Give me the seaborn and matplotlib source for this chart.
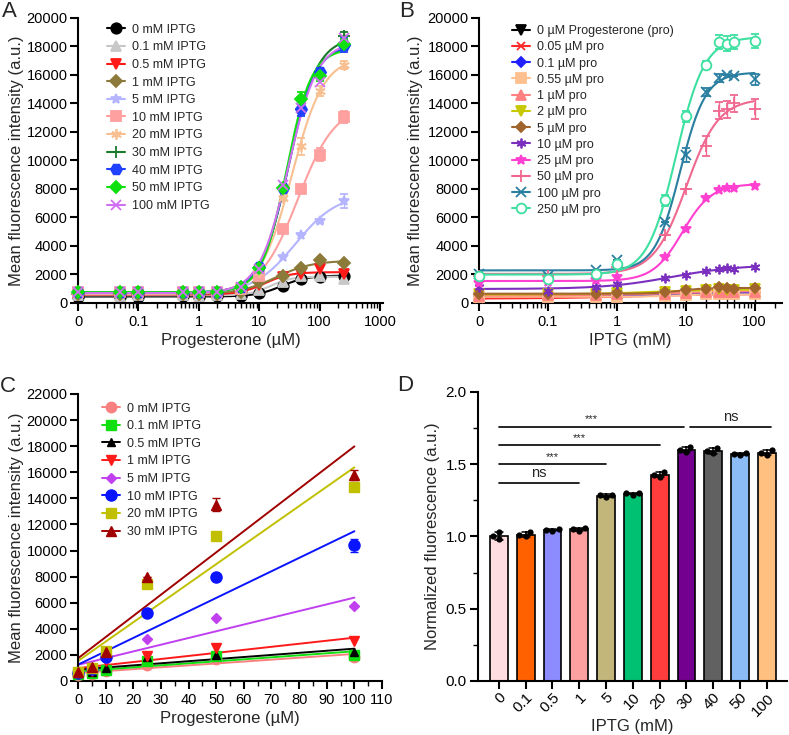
import numpy as np
import pandas as pd
import matplotlib
matplotlib.use("Agg")
import matplotlib.pyplot as plt
import seaborn as sns
from matplotlib.lines import Line2D
from matplotlib.ticker import LogLocator, NullFormatter, MultipleLocator

# ---------------- Panel A: progesterone response at fixed IPTG ----------------
pro_conc = [0, 0.05, 0.1, 0.55, 1, 2, 5, 10, 25, 50, 100, 250]
a_labels = ["0 mM IPTG", "0.1 mM IPTG", "0.5 mM IPTG", "1 mM IPTG", "5 mM IPTG",
            "10 mM IPTG", "20 mM IPTG", "30 mM IPTG", "40 mM IPTG", "50 mM IPTG",
            "100 mM IPTG"]
a_0mM = [450, 420, 450, 500, 430, 480, 500, 700, 1200, 1700, 1850, 1900]
a_01mM = [550, 500, 550, 550, 500, 550, 600, 900, 1500, 1900, 1900, 1700]
a_05mM = [600, 600, 600, 600, 600, 600, 750, 1250, 1850, 2000, 2350, 2050]
a_1mM = [650, 650, 650, 650, 650, 650, 800, 1500, 1900, 2450, 3000, 2800]
a_5mM = [700, 700, 700, 700, 700, 700, 900, 1800, 3200, 4750, 5750, 7150]
a_10mM = [750, 750, 750, 750, 750, 750, 950, 1900, 5200, 8000, 10400, 13050]
a_20mM = [750, 750, 750, 750, 750, 750, 1000, 2200, 7400, 11000, 14900, 16700]
a_30mM = [800, 800, 800, 800, 800, 800, 1050, 2500, 8100, 13600, 16200, 18700]
a_40mM = [800, 800, 800, 800, 800, 800, 1100, 2500, 8100, 13600, 16200, 18100]
a_50mM = [800, 800, 800, 800, 800, 800, 1100, 2450, 8100, 14300, 15900, 18200]
a_100mM = [800, 800, 800, 800, 800, 800, 1100, 2400, 8300, 13700, 15500, 18600]
a_err_01mM = [0, 0, 0, 0, 0, 0, 0, 0, 0, 0, 0, 250]
a_err_5mM = [0, 0, 0, 0, 0, 0, 0, 0, 0, 0, 150, 500]
a_err_10mM = [0, 0, 0, 0, 0, 0, 0, 0, 0, 0, 450, 400]
a_err_20mM = [0, 0, 0, 0, 0, 0, 0, 0, 0, 600, 350, 300]
a_err_30mM = [0, 0, 0, 0, 0, 0, 0, 0, 0, 300, 300, 300]
a_err_40mM = [0, 0, 0, 0, 0, 0, 0, 0, 0, 500, 300, 500]
a_err_50mM = [0, 0, 0, 0, 0, 0, 0, 0, 0, 500, 300, 300]

# ---------------- Panel B: IPTG response at fixed progesterone ----------------
iptg_conc = [0, 0.1, 0.5, 1, 5, 10, 20, 30, 40, 50, 100]
b_labels = ["0 µM Progesterone (pro)", "0.05 µM pro", "0.1 µM pro", "0.55 µM pro",
            "1 µM pro", "2 µM pro", "5 µM pro", "10 µM pro", "25 µM pro",
            "50 µM pro", "100 µM pro", "250 µM pro"]
b_0 = [450, 450, 450, 500, 550, 600, 650, 700, 700, 700, 700]
b_005 = [300, 350, 400, 450, 500, 550, 600, 600, 600, 600, 600]
b_01 = [500, 500, 500, 550, 550, 600, 650, 700, 700, 700, 700]
b_055 = [400, 450, 450, 450, 500, 550, 600, 600, 600, 600, 600]
b_1 = [500, 550, 550, 600, 650, 700, 750, 800, 800, 800, 800]
b_2 = [600, 600, 650, 700, 800, 850, 900, 950, 900, 900, 950]
b_5 = [600, 650, 650, 700, 750, 900, 1000, 1100, 1050, 1000, 1050]
b_10 = [1100, 850, 1150, 1300, 1750, 1950, 2250, 2350, 2450, 2400, 2550]
b_25 = [1400, 1450, 1600, 1800, 3200, 5200, 7350, 7950, 8100, 8100, 8200]
b_50 = [1900, 1900, 2000, 2500, 4800, 8000, 11000, 13500, 13600, 14000, 13600]
b_100 = [2000, 1900, 2300, 3000, 5700, 10400, 14800, 15800, 16000, 15950, 15700]
b_250 = [1900, 1700, 2000, 2700, 7200, 13100, 16700, 18300, 18200, 18300, 18400]
b_err_0_low = [450, 450, 450, 500, 550, 600, 650, 700, 700, 700, 700]
b_err_0_up = [0, 0, 0, 0, 0, 0, 0, 0, 0, 0, 0]
b_err_50 = [0, 0, 0, 0, 0, 0, 700, 600, 600, 600, 700]
b_err_100 = [0, 0, 0, 0, 0, 500, 300, 300, 0, 0, 400]
b_err_250 = [0, 0, 0, 0, 400, 400, 300, 500, 500, 500, 500]

# ---------------- Panel C: linear range ----------------
c_pro = [0, 5, 10, 25, 50, 100]
c_labels = ["0 mM IPTG", "0.1 mM IPTG", "0.5 mM IPTG", "1 mM IPTG", "5 mM IPTG",
            "10 mM IPTG", "20 mM IPTG", "30 mM IPTG"]
c_0mM = [450, 500, 750, 1200, 1700, 1850]
c_01mM = [500, 600, 850, 1500, 1900, 2000]
c_05mM = [600, 700, 1000, 1800, 2000, 2200]
c_1mM = [600, 800, 1500, 1900, 2500, 3050]
c_5mM = [700, 1000, 1750, 3200, 4800, 5750]
c_10mM = [600, 900, 1850, 5200, 8000, 10400]
c_20mM = [700, 1000, 2300, 7400, 11100, 14900]
c_30mM = [700, 1100, 2200, 8000, 13500, 15800]
c_err_10mM = [0, 0, 0, 0, 0, 500]
c_err_30mM = [0, 0, 0, 0, 500, 400]

# ---------------- Panel D: normalized fluorescence ----------------
d_iptg = ["0", "0.1", "0.5", "1", "5", "10", "20", "30", "40", "50", "100"]
d_rep1 = [1.03, 1.03, 1.04, 1.06, 1.29, 1.30, 1.445, 1.62, 1.61, 1.58, 1.595]
d_rep2 = [0.98, 1.00, 1.045, 1.04, 1.27, 1.29, 1.41, 1.585, 1.575, 1.565, 1.565]
d_rep3 = [1.00, 1.01, 1.05, 1.055, 1.285, 1.30, 1.425, 1.60, 1.59, 1.57, 1.58]
d_colors = ["#ffdde0", "#ff6000", "#8c8cff", "#ffa0a0", "#c2b67a", "#00c072",
            "#ff3d3d", "#73008f", "#616161", "#8cbcf6", "#ffc080"]
sig_start = [0, 0, 0, 0, 7.15]
sig_end = [3, 4, 6, 6.9, 10.15]
sig_y = [1.37, 1.50, 1.63, 1.76, 1.76]
sig_text = ["ns", "***", "***", "***", "ns"]


def hill_fit(x, y):
    # grid search over EC50 / Hill slope, bottom and span by least squares
    x = np.asarray(x, float)
    y = np.asarray(y, float)
    L, N = np.meshgrid(np.arange(-1.5, 3.0, 0.01), np.arange(0.5, 4.0, 0.05), indexing="ij")
    L, N = L.ravel(), N.ravel()
    ec = 10 ** L
    f = x[None, :] ** N[:, None] / (x[None, :] ** N[:, None] + ec[:, None] ** N[:, None])
    fm, ym = f.mean(1), y.mean()
    fc, yc = f - fm[:, None], y - ym
    slope = (fc * yc).sum(1) / ((fc ** 2).sum(1) + 1e-12)
    inter = ym - slope * fm
    sse = ((y[None, :] - inter[:, None] - slope[:, None] * f) ** 2).sum(1)
    k = np.argmin(sse)
    return inter[k], slope[k], ec[k], N[k]


def dose_panel(ax, x, series, xmax):
    xp = np.where(np.asarray(x, float) == 0, 0.01, x)
    xs = np.logspace(-2, np.log10(xmax), 300)
    handles = []
    for y, err, color, marker, ms, mfc in series:
        b, s, ec, n = hill_fit(x, y)
        ax.plot(xs, b + s * xs ** n / (xs ** n + ec ** n), color=color, lw=1.5, zorder=2,
                clip_on=False)
        ax.errorbar(xp, y, yerr=err, marker=marker, linestyle="none", color=color, ms=ms,
                    mfc=mfc, mec=color, mew=1.3, capsize=3, elinewidth=1, zorder=3,
                    clip_on=False)
        handles.append(Line2D([], [], color=color, marker=marker, ms=ms, mfc=mfc,
                              mec=color, mew=1.3, lw=1.5))
    ax.set_xscale("log")
    ax.xaxis.set_minor_locator(LogLocator(base=10, subs=np.arange(2, 10), numticks=20))
    ax.xaxis.set_minor_formatter(NullFormatter())
    ax.set_ylim(0, 20000)
    ax.set_yticks(np.arange(0, 20001, 2000))
    return handles


sns.set_style("ticks")
plt.rcParams["font.family"] = ["Liberation Sans", "DejaVu Sans"]
plt.rcParams.update({
    "axes.linewidth": 1.5, "xtick.major.width": 1.5, "ytick.major.width": 1.5,
    "xtick.minor.width": 1.0, "ytick.minor.width": 1.0,
    "xtick.major.size": 6, "ytick.major.size": 6,
    "xtick.minor.size": 3.5, "ytick.minor.size": 3.5,
    "xtick.major.pad": 2.5, "ytick.major.pad": 1.5,
    "xtick.labelsize": 10.5, "ytick.labelsize": 10.5,
    "axes.labelsize": 12, "axes.edgecolor": "black",
    "xtick.color": "black", "ytick.color": "black",
})

fig = plt.figure(figsize=(7.89, 7.35), dpi=100)
axA = fig.add_axes([0.0989, 0.5878, 0.3866, 0.3878])
axB = fig.add_axes([0.6071, 0.5878, 0.3840, 0.3878])
axC = fig.add_axes([0.0989, 0.0735, 0.3853, 0.3905])
axD = fig.add_axes([0.6058, 0.0735, 0.3916, 0.3932])
for ax in (axA, axB, axC, axD):
    sns.despine(ax=ax)

asterisk = (6, 2, 0)

# ---- A ----
seriesA = [
    (a_0mM, None, "black", "o", 7.5, "black"),
    (a_01mM, a_err_01mM, "#c8c8c8", "^", 6.5, "#c8c8c8"),
    (a_05mM, None, "#ff1a1a", "v", 6.5, "#ff1a1a"),
    (a_1mM, None, "#8c7a3a", "D", 6, "#8c7a3a"),
    (a_5mM, a_err_5mM, "#b4b4ff", "*", 7.5, "#b4b4ff"),
    (a_10mM, a_err_10mM, "#ffa0a0", "s", 7.5, "#ffa0a0"),
    (a_20mM, a_err_20mM, "#f8c090", asterisk, 7.5, "#f8c090"),
    (a_30mM, a_err_30mM, "#1a7a2a", "+", 8.5, "#1a7a2a"),
    (a_40mM, a_err_40mM, "#2040ff", "H", 8, "#2040ff"),
    (a_50mM, a_err_50mM, "#10e010", "D", 6.5, "#10e010"),
    (a_100mM, None, "#d070f0", "x", 7.5, "#d070f0"),
]
hA = dose_panel(axA, pro_conc, seriesA, 250)
axA.set_xlim(0.01, 1120)
axA.set_xticks([0.01, 0.1, 1, 10, 100, 1000])
axA.set_xticklabels(["0", "0.1", "1", "10", "100", "1000"])
axA.set_xlabel("Progesterone (µM)", labelpad=3)
axA.set_ylabel("Mean fluorescence intensity (a.u.)", labelpad=2)
axA.legend(hA, a_labels, loc="upper left", bbox_to_anchor=(0.095, 0.98), frameon=False,
           fontsize=9, handlelength=1.4, handletextpad=0.6, labelspacing=0.45,
           borderpad=0, borderaxespad=0)

# ---- B ----
seriesB = [
    (b_0, [b_err_0_low, b_err_0_up], "black", "v", 7, "black"),
    (b_005, None, "#ff2a2a", "x", 6, "#ff2a2a"),
    (b_01, None, "#2020ff", "D", 5.5, "#2020ff"),
    (b_055, None, "#ffc090", "s", 6.5, "#ffc090"),
    (b_1, None, "#ff8080", "^", 6.5, "#ff8080"),
    (b_2, None, "#c8c800", "v", 6.5, "#c8c800"),
    (b_5, None, "#a0642d", "D", 5.5, "#a0642d"),
    (b_10, None, "#7b2fbe", asterisk, 7, "#7b2fbe"),
    (b_25, None, "#ff40d0", "*", 7, "#ff40d0"),
    (b_50, b_err_50, "#f06890", "+", 8, "#f06890"),
    (b_100, b_err_100, "#2a7fa0", "x", 7, "#2a7fa0"),
    (b_250, b_err_250, "#3de0a0", "o", 7, "white"),
]
hB = dose_panel(axB, iptg_conc, seriesB, 100)
axB.set_xlim(0.01, 250)
axB.set_xticks([0.01, 0.1, 1, 10, 100])
axB.set_xticklabels(["0", "0.1", "1", "10", "100"])
axB.set_xlabel("IPTG (mM)", labelpad=3)
axB.set_ylabel("Mean fluorescence intensity (a.u.)", labelpad=3)
axB.legend(hB, b_labels, loc="upper left", bbox_to_anchor=(0.109, 0.975), frameon=False,
           fontsize=9, handlelength=1.4, handletextpad=0.6, labelspacing=0.34,
           borderpad=0, borderaxespad=0)

# ---- C ----
seriesC = [
    (c_0mM, None, "#f88080", "o", 7.5),
    (c_01mM, None, "#10e010", "s", 6.5),
    (c_05mM, None, "black", "^", 6),
    (c_1mM, None, "#ff1a1a", "v", 6.5),
    (c_5mM, None, "#c040f0", "D", 5),
    (c_10mM, c_err_10mM, "#0a14ff", "o", 8),
    (c_20mM, None, "#c0c000", "s", 7.5),
    (c_30mM, c_err_30mM, "#a00000", "^", 7.5),
]
hC = []
for y, err, color, marker, ms in seriesC:
    sns.regplot(x=c_pro, y=y, ax=axC, scatter=False, ci=None, truncate=True,
                line_kws={"color": color, "lw": 1.4, "zorder": 2})
    axC.errorbar(c_pro, y, yerr=err, marker=marker, linestyle="none", color=color, ms=ms,
                 capsize=3, elinewidth=1, zorder=3, clip_on=False)
    hC.append(Line2D([], [], color=color, marker=marker, ms=ms, lw=1.4))
axC.set_xlim(0, 110)
axC.set_ylim(0, 22000)
axC.set_xticks(np.arange(0, 111, 10))
axC.xaxis.set_minor_locator(MultipleLocator(5))
axC.set_yticks(np.arange(0, 22001, 2000))
axC.set_xlabel("Progesterone (µM)", labelpad=3)
axC.set_ylabel("Mean fluorescence intensity (a.u.)", labelpad=2)
axC.legend(hC, c_labels, loc="upper left", bbox_to_anchor=(0.079, 0.97), frameon=False,
           fontsize=9, handlelength=1.4, handletextpad=0.6, labelspacing=0.45,
           borderpad=0, borderaxespad=0)

# ---- D ----
dfD = pd.DataFrame({
    "iptg": d_iptg * 3,
    "val": d_rep1 + d_rep2 + d_rep3,
})
sns.barplot(data=dfD, x="iptg", y="val", hue="iptg", order=d_iptg, hue_order=d_iptg,
            palette=d_colors, saturation=1, errorbar="sd", capsize=0.3, width=0.66,
            edgecolor="black", linewidth=1.2, legend=False,
            err_kws={"color": "black", "linewidth": 1.1}, ax=axD)
sns.swarmplot(data=dfD, x="iptg", y="val", order=d_iptg, color="black", size=4.5, ax=axD)
for x0, x1, yy, txt in zip(sig_start, sig_end, sig_y, sig_text):
    axD.plot([x0, x1], [yy, yy], color="black", lw=1.2)
    if txt == "ns":
        axD.text((x0 + x1) / 2, yy + 0.02, txt, ha="center", va="bottom", fontsize=10.5)
    else:
        axD.text((x0 + x1) / 2, yy + 0.015, txt, ha="center", va="bottom", fontsize=8)
axD.set_xlim(-0.78, 10.75)
axD.set_ylim(0, 2.0)
axD.set_yticks([0.0, 0.5, 1.0, 1.5, 2.0])
axD.yaxis.set_minor_locator(MultipleLocator(0.25))
axD.tick_params(axis="x", labelrotation=45, labelsize=11, pad=1)
for lab in axD.get_xticklabels():
    lab.set_ha("right")
    lab.set_rotation_mode("anchor")
axD.tick_params(axis="y", labelsize=11, pad=2)
axD.set_xlabel("IPTG (mM)", labelpad=0)
axD.set_ylabel("Normalized fluorescence (a.u.)", labelpad=4)

# panel letters
for lx, ly, letter in [(0.003, 0.999, "A"), (0.506, 0.999, "B"),
                       (0.0, 0.488, "C"), (0.503, 0.490, "D")]:
    fig.text(lx, ly, letter, fontsize=16, ha="left", va="top")

fig.savefig("out.png", dpi=100)
